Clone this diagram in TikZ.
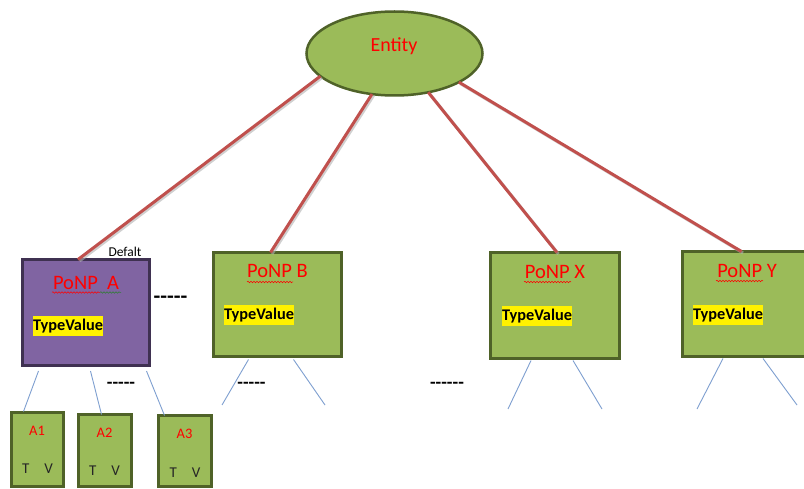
\documentclass[tikz,border=0pt]{standalone}
\usepackage{fontspec}
\setmainfont{Carlito}
\usetikzlibrary{calc,shapes.geometric,decorations.pathmorphing}
\definecolor{olivefill}{HTML}{9BBB59}
\definecolor{olivedark}{HTML}{4F6228}
\definecolor{plumfill}{HTML}{8064A2}
\definecolor{plumdark}{HTML}{3F3151}
\definecolor{linkred}{HTML}{C0504D}
\definecolor{branchblue}{HTML}{7E9FD0}
\definecolor{spellgreen}{HTML}{2E7D32}
\begin{document}
\begin{tikzpicture}[x=1pt,y=-1pt,
  ponpbox/.style={draw=olivedark, fill=olivefill, line width=3pt, inner sep=0pt, outer sep=0pt},
  leafbox/.style={draw=olivedark, fill=olivefill, line width=3pt, inner sep=0pt, outer sep=0pt},
  entshape/.style={ellipse, draw=olivedark, fill=olivefill, line width=2.5pt, inner sep=0pt, outer sep=0pt,
    minimum width=176pt, minimum height=84pt},
  link/.style={draw=linkred, line width=3pt},
  linkshade/.style={draw=black!30, line width=3pt, opacity=0.6},
  branch/.style={draw=branchblue, line width=0.9pt},
  titletext/.style={text=red, font=\fontsize{20.5}{24}\selectfont, anchor=base, inner sep=0pt},
  leaftext/.style={text=red, font=\fontsize{14.5}{17}\selectfont, anchor=base, inner sep=0pt},
  tvtext/.style={text=black!85, font=\fontsize{15}{18}\selectfont, anchor=base, inner sep=0pt},
  typeval/.style={fill=yellow, font=\bfseries\fontsize{16.3}{19}\selectfont, inner xsep=0pt, inner ysep=0pt,
    minimum height=20pt},
  gap/.style={font=\bfseries, anchor=base, inner sep=0pt},
  squiggle/.style={decorate, decoration={snake, segment length=3pt, amplitude=0.8pt}, line width=0.5pt}]
\clip (0,0) rectangle (804,489);
\fill[white] (0,0) rectangle (804,489);

% root entity
\node[entshape] (ent) at (394.5,53.5) {};
\node[text=red, font=\fontsize{20}{24}\selectfont, anchor=base, inner sep=0pt] (entlabel) at (394,52) {Entity};

% PoNP boxes
\node[ponpbox, draw=plumdark, fill=plumfill, minimum width=127pt, minimum height=106pt] (pa) at (86,312.5) {};
\node[ponpbox, minimum width=128pt, minimum height=104pt] (pb) at (277.5,304.5) {};
\node[ponpbox, minimum width=129pt, minimum height=106pt] (px) at (555,305.5) {};
\node[ponpbox, minimum width=128pt, minimum height=105pt] (py) at (746.5,304) {};

% connectors from the entity
\foreach \ang/\tgt/\dx in {197/pa/-8, 241/pb/-7, 311/px/2, 336/py/-5}{
  \draw[linkshade] ($(ent.\ang)+(1.5,1.5)$) -- ($(\tgt.north)+(\dx+1.5,1.5)$);
  \draw[link] (ent.\ang) -- ($(\tgt.north)+(\dx,0)$);
}

% titles
\node[titletext] (ta) at (86,290) {PoNP\ \ A};
\node[titletext] (tb) at (277.5,278) {PoNP B};
\node[titletext] (tx) at (555,279) {PoNP X};
\node[titletext] (ty) at (747,278) {PoNP Y};

% spell-check marks under the titles
\draw[squiggle, red] (52,292.5) -- (100,292.5);
\draw[squiggle, spellgreen] (100,292.5) -- (121,292.5);
\draw[squiggle, red] (247,282) -- (293,282);
\draw[squiggle, red] (524,282) -- (571,282);
\draw[squiggle, red] (716,281) -- (763,281);

% highlighted type values
\node[typeval] (va) at (68,326) {TypeValue};
\node[typeval] (vb) at (259,315) {TypeValue};
\node[typeval] (vx) at (537,316.5) {TypeValue};
\node[typeval] (vy) at (728,315) {TypeValue};

% default marker
\node[font=\fontsize{13.5}{16}\selectfont, anchor=base, inner sep=0pt] (dflt) at (125,257) {Defalt};

% attribute boxes of PoNP A
\node[leafbox, minimum width=52pt, minimum height=74pt] (a1) at (37.5,449.5) {};
\node[leafbox, minimum width=53pt, minimum height=72pt] (a2) at (105,450.5) {};
\node[leafbox, minimum width=53pt, minimum height=71pt] (a3) at (185,451) {};
\node[leaftext] (la1) at (37,435) {A1};
\node[leaftext] (la2) at (104.5,437) {A2};
\node[leaftext] (la3) at (184.5,438) {A3};
\node[tvtext] (tva1) at (37.5,473) {T\hspace{15pt}V};
\node[tvtext] (tva2) at (104.5,475) {T\hspace{15pt}V};
\node[tvtext] (tva3) at (185,477) {T\hspace{15pt}V};

% branches from PoNP A
\draw[branch] ($(pa.south west)+(16,5.5)$) -- ($(a1.north west)+(12,-1)$);
\draw[branch] ($(pa.south west)+(68,5.5)$) -- ($(a2.north west)+(23,0)$);
\draw[branch] ($(pa.south west)+(124,5.5)$) -- ($(a3.north west)+(6,0)$);

% open branches of the other boxes
\coordinate (b1) at (222,405);
\coordinate (b2) at (325,405);
\coordinate (x1) at (508,409);
\coordinate (x2) at (602,409);
\coordinate (y1) at (697,409);
\coordinate (y2) at (797,405);
\draw[branch] ($(pb.south west)+(35,3)$) -- (b1);
\draw[branch] ($(pb.south west)+(80,3)$) -- (b2);
\draw[branch] ($(px.south west)+(40.5,2)$) -- (x1);
\draw[branch] ($(px.south west)+(82.5,2)$) -- (x2);
\draw[branch] ($(py.south west)+(40.5,2)$) -- (y1);
\draw[branch] ($(py.south west)+(80.5,2)$) -- (y2);

% elision marks (hyphens kept apart so they do not join into dashes)
\node[gap, font=\bfseries\fontsize{22}{26}\selectfont] (g0) at (170.5,304) {-{}-{}-{}-{}-};
\node[gap, font=\bfseries\fontsize{18.4}{22}\selectfont] (g1) at (121,388.5) {-{}-{}-{}-{}-};
\node[gap, font=\bfseries\fontsize{18.4}{22}\selectfont] (g2) at (251.5,388.5) {-{}-{}-{}-{}-};
\node[gap, font=\bfseries\fontsize{18.4}{22}\selectfont] (g3) at (447,388.5) {-{}-{}-{}-{}-{}-};
\end{tikzpicture}
\end{document}
